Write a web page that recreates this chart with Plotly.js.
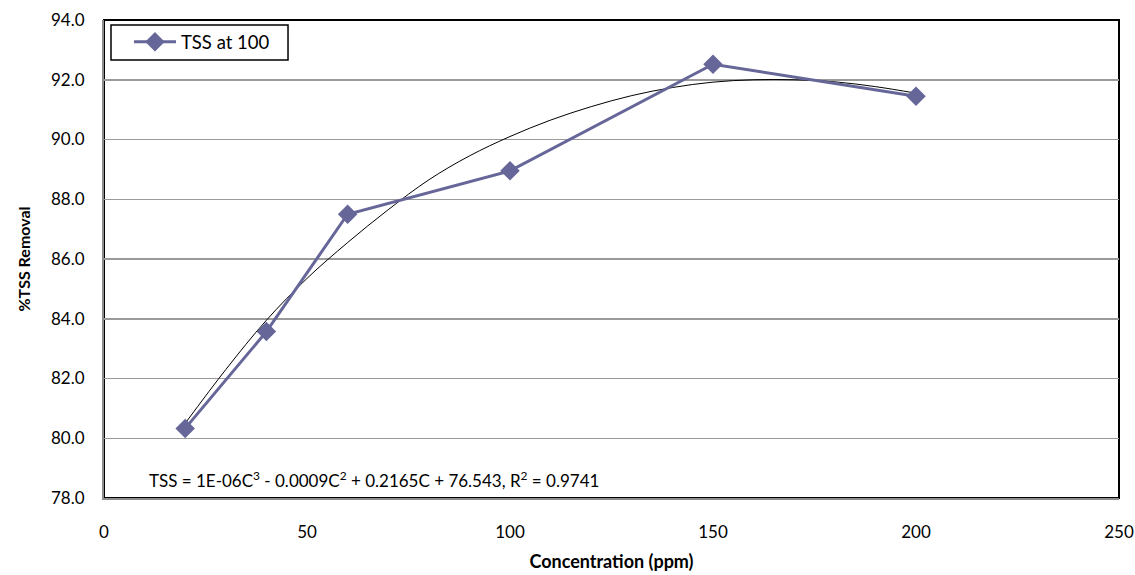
<!DOCTYPE html>
<html>
<head>
<meta charset="utf-8">
<script src="https://cdn.plot.ly/plotly-3.0.1.min.js"></script>
<style>html,body{margin:0;padding:0;background:#fff;}#chart{width:1135px;height:575px;}</style>
</head>
<body>
<div id="chart"></div>
<script>
// Measured data
const concentration = [20, 40, 60, 100, 150, 200];
const tssRemoval = [80.33, 83.57, 87.5, 88.95, 92.52, 91.45];
// Trend line
const trendX = [20, 30, 40, 50, 60, 70, 80, 90, 100, 110, 120, 130, 140, 150, 160, 170, 180, 190, 200];
const trendY = [80.5, 82.3, 83.95, 85.35, 86.55, 87.65, 88.65, 89.45, 90.1, 90.65, 91.1, 91.47, 91.74, 91.92, 92.0, 92.0, 91.93, 91.77, 91.55];
const seriesName = "TSS at 100";
const equationText = "TSS = 1E-06C<sup>3</sup> - 0.0009C<sup>2</sup> + 0.2165C + 76.543, R<sup>2</sup> = 0.9741";

const FONT = "Lato, 'Open Sans', sans-serif";

const data = [
  {
    x: trendX, y: trendY, type: "scatter", mode: "lines",
    line: {color: "#000000", width: 1, shape: "spline"},
    showlegend: false, hoverinfo: "skip"
  },
  {
    x: concentration, y: tssRemoval, type: "scatter", mode: "lines+markers",
    name: seriesName,
    line: {color: "#666699", width: 3},
    marker: {symbol: "diamond", size: 15, color: "#666699"}
  }
];

const layout = {
  width: 1135, height: 575,
  margin: {l: 104, r: 16, t: 20, b: 77},
  paper_bgcolor: "#ffffff", plot_bgcolor: "#ffffff",
  font: {family: FONT, size: 14, color: "#000"},
  xaxis: {
    range: [0, 250], dtick: 50, tick0: 0,
    showgrid: false, zeroline: false,
    showline: true, linecolor: "#8c8c8c", linewidth: 2,
    ticks: "", ticklabelstandoff: 18,
    tickfont: {family: FONT, size: 17},
    title: {text: "<b>Concentration (ppm)</b>", font: {family: FONT, size: 18}, standoff: 14}
  },
  yaxis: {
    range: [78, 94], dtick: 2, tick0: 78, tickformat: ".1f",
    showgrid: true, gridcolor: "#9a9a9a", gridwidth: 1.5,
    zeroline: false,
    showline: true, linecolor: "#8c8c8c", linewidth: 2,
    ticks: "", ticklabelstandoff: 14,
    tickfont: {family: FONT, size: 17},
    title: {text: "<b>%TSS Removal</b>", font: {family: FONT, size: 16}, standoff: 16}
  },
  legend: {
    x: 0.0246, y: 0.993, xanchor: "left", yanchor: "top",
    bgcolor: "rgba(0,0,0,0)", borderwidth: 0,
    itemwidth: 42,
    font: {family: FONT, size: 18.5}
  },
  shapes: [
    {type: "rect", xref: "paper", yref: "paper", x0: 0, x1: 1, y0: 0, y1: 1,
     line: {color: "#000000", width: 2}, layer: "below"},
    {type: "rect", xref: "paper", yref: "paper", x0: 0.0069, x1: 0.1813, y0: 0.9163, y1: 0.9895,
     line: {color: "#000000", width: 1.5}, fillcolor: "rgba(0,0,0,0)", layer: "above"}
  ],
  annotations: [
    {xref: "paper", yref: "paper", x: 0.042, y: 0.038, xanchor: "left", yanchor: "middle",
     text: equationText, showarrow: false, font: {family: FONT, size: 17, color: "#000"}}
  ]
};

Plotly.newPlot("chart", data, layout, {displayModeBar: false, staticPlot: true});
</script>
</body>
</html>
